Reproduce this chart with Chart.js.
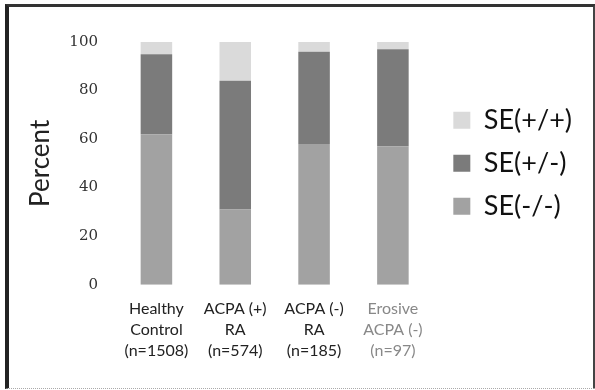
<!DOCTYPE html>
<html lang="en">
  <head>
    <meta charset="UTF-8" />
    <title>SE genotype by group</title>
    <style>
      html, body { margin: 0; padding: 0; background: #fff; }
      .wrap { position: relative; width: 595px; height: 390px; }
      .frame {
        position: absolute; left: 5px; top: 4px; width: 584px; height: 381px;
        border-left: 4px solid #222; border-top: 3px solid #333;
        border-right: 3px solid #444; border-bottom: 1px dotted #aaa;
        pointer-events: none;
      }
    </style>
    <script src="https://cdn.jsdelivr.net/npm/chart.js"></script>
  </head>
  <body>
    <div class="wrap">
      <canvas id="chart" width="595" height="390"></canvas>
      <div class="frame"></div>
    </div>
    <script>
      const groups = [
        ["Healthy", "Control", "(n=1508)"],
        ["ACPA (+)", "RA", "(n=574)"],
        ["ACPA (-)", "RA", "(n=185)"],
        ["Erosive", "ACPA (-)", "(n=97)"],
      ];
      const seNegNeg = [62, 31, 58, 57];
      const sePosNeg = [33, 53, 38, 40];
      const sePosPos = [5, 16, 4, 3];
      const yTicks = [0, 20, 40, 60, 80, 100];

      const ctx = document.getElementById("chart");

      new Chart(ctx, {
        type: "bar",
        data: {
          labels: groups,
          datasets: [
            { label: "SE(-/-)", data: seNegNeg, backgroundColor: "#a2a2a2" },
            { label: "SE(+/-)", data: sePosNeg, backgroundColor: "#7b7b7b" },
            { label: "SE(+/+)", data: sePosPos, backgroundColor: "#dadada" },
          ],
        },
        options: {
          responsive: false,
          animation: false,
          layout: { padding: { left: 24, top: 42, right: 13, bottom: 15 } },
          datasets: {
            bar: { categoryPercentage: 1, barPercentage: 0.4 },
          },
          plugins: {
            tooltip: { enabled: false },
            legend: {
              position: "right",
              reverse: true,
              fullSize: false,
              maxWidth: 170,
              labels: {
                boxWidth: 17,
                boxHeight: 17,
                padding: 16,
                color: "#111",
                font: { family: "Lato", size: 27 },
              },
            },
          },
          scales: {
            x: {
              stacked: true,
              grid: { display: false, drawTicks: false },
              border: { display: false },
              ticks: {
                padding: 13,
                maxRotation: 0,
                font: { family: "Lato", size: 16, lineHeight: 1.34 },
                color: (c) => (c.index === 3 ? "#888" : "#222"),
              },
            },
            y: {
              stacked: true,
              min: 0,
              max: 100,
              afterBuildTicks: (axis) => {
                axis.ticks = yTicks.map((v) => ({ value: v }));
              },
              grid: { display: false, drawTicks: false },
              border: { display: false },
              title: {
                display: true,
                text: "Percent",
                color: "#222",
                padding: { top: 7, bottom: 0 },
                font: { family: "Lato", size: 26, lineHeight: 0.75 },
              },
              ticks: {
                padding: 19,
                color: "#333",
                font: { family: "DejaVu Serif", size: 15 },
              },
            },
            // empty strip between the plot and the legend
            gap: {
              axis: "y",
              position: "right",
              grid: { display: false, drawTicks: false },
              border: { display: false },
              ticks: { display: false },
              afterFit: (s) => {
                s.width = 5;
              },
            },
          },
        },
      });
    </script>
  </body>
</html>
